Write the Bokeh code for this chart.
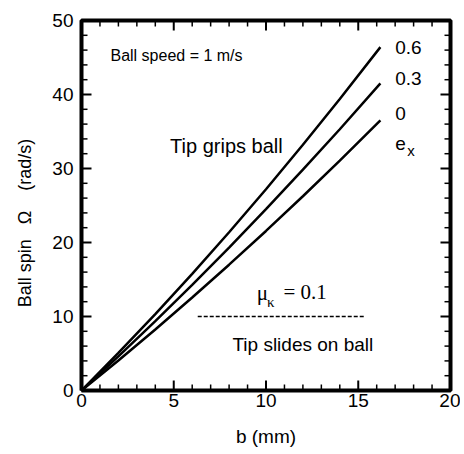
from bokeh.plotting import figure
from bokeh.models import Range1d, LinearAxis, SingleIntervalTicker, Label, ColumnDataSource
from bokeh.embed import file_html
from bokeh.resources import INLINE

# ---- data ----
b_mm = [0, 2, 4, 6, 8, 10, 12, 14, 16.2]
spin_e06 = [0, 5.07, 10.33, 15.77, 21.39, 27.2, 33.2, 39.4, 46.4]
spin_e03 = [0, 4.62, 9.37, 14.28, 19.32, 24.5, 29.84, 35.3, 41.5]
spin_e00 = [0, 4.06, 8.25, 12.56, 17.0, 21.56, 26.25, 31.06, 36.5]
ex_labels = ["0.6", "0.3", "0"]
slide_b = [6.3, 15.3]
slide_spin = [10, 10]

# axis ranges and tick positions
X_MIN, X_MAX = 0, 20
Y_MIN, Y_MAX = 0, 50
x_major = [0, 5, 10, 15, 20]
y_major = [0, 10, 20, 30, 40, 50]
x_minor = [v for v in range(X_MIN, X_MAX + 1) if v not in x_major]
y_minor = [v for v in range(Y_MIN, Y_MAX + 1, 2) if v not in y_major]

SANS = "Liberation Sans"
SERIF = "Liberation Serif"

W, H = 460, 450
BL, BR, BT, BB = 81, 10, 20, 60
FW, FH = W - BL - BR, H - BT - BB
PX_X = FW / (X_MAX - X_MIN)   # pixels per data unit
PX_Y = FH / (Y_MAX - Y_MIN)
MAJ, MIN = 10, 6              # tick lengths in pixels

p = figure(width=W, height=H, x_range=Range1d(X_MIN, X_MAX), y_range=Range1d(Y_MIN, Y_MAX),
           output_backend="svg", toolbar_location=None,
           min_border_left=BL, min_border_right=BR, min_border_top=BT, min_border_bottom=BB,
           x_axis_type=None, y_axis_type=None)
p.grid.visible = False
p.outline_line_color = "#000000"
p.outline_line_width = 2


def style(ax):
    ax.axis_line_width = 2
    ax.axis_line_color = "#000000"
    ax.major_tick_line_color = None
    ax.minor_tick_line_color = None
    ax.major_tick_in = 0
    ax.major_tick_out = 0
    ax.minor_tick_in = 0
    ax.minor_tick_out = 0
    ax.major_label_text_font = SANS
    ax.major_label_text_font_size = "19px"
    ax.major_label_text_color = "black"
    ax.axis_label_text_font = SANS
    ax.axis_label_text_font_style = "normal"
    ax.axis_label_text_color = "black"


xb = LinearAxis(ticker=SingleIntervalTicker(interval=5, num_minor_ticks=5), axis_label="b (mm)")
style(xb)
xb.major_label_standoff = 3
xb.axis_label_text_font_size = "19px"
xb.axis_label_standoff = 16
p.add_layout(xb, "below")

NB = "\u00a0"
yl = LinearAxis(ticker=SingleIntervalTicker(interval=10, num_minor_ticks=5),
                axis_label="Ball spin" + NB * 3 + "\u03a9" + NB * 4 + "(rad/s)" + NB * 7)
style(yl)
yl.major_label_standoff = 8
yl.axis_label_text_font_size = "18px"
yl.axis_label_standoff = 14
p.add_layout(yl, "left")

# curves
for ys in (spin_e06, spin_e03, spin_e00):
    p.line(b_mm, ys, line_color="black", line_width=2.5)

# sliding boundary
p.line(slide_b, slide_spin, line_color="black", line_width=1.5, line_dash="4 2")

# inward tick marks on all four sides, as one multi-line glyph per tick class
def tick_source(xs_list, ys_list):
    return ColumnDataSource(dict(xs=xs_list, ys=ys_list))

for L, lw, xt, yt in ((MAJ, 2, x_major, y_major), (MIN, 1.5, x_minor, y_minor)):
    dy = L / PX_Y
    dx = L / PX_X
    xs_l, ys_l = [], []
    for xv in xt:
        xs_l += [[xv, xv], [xv, xv]]
        ys_l += [[Y_MIN, Y_MIN + dy], [Y_MAX, Y_MAX - dy]]
    for yv in yt:
        xs_l += [[X_MIN, X_MIN + dx], [X_MAX, X_MAX - dx]]
        ys_l += [[yv, yv], [yv, yv]]
    p.multi_line("xs", "ys", source=tick_source(xs_l, ys_l),
                 line_color="black", line_width=lw, level="overlay")

# frame box, drawn after the curves
p.line([X_MIN, X_MAX, X_MAX, X_MIN, X_MIN], [Y_MIN, Y_MIN, Y_MAX, Y_MAX, Y_MIN],
       line_color="black", line_width=4, level="overlay")

# annotations
def lab(x, y, t, size, font=SANS, align="left", base="middle"):
    p.add_layout(Label(x=x, y=y, text=t, text_font=font, text_font_size=size,
                       text_align=align, text_baseline=base, text_color="black"))

lab(1.57, 45.3, "Ball speed = 1 m/s", "16px")
lab(4.8, 33.1, "Tip grips ball", "20px")
for t, yy in zip(ex_labels, [46.4, 42.2, 37.4]):
    lab(17.0, yy, t, "19px")
lab(17.0, 33.4, "e", "19px")
lab(17.65, 32.4, "x", "15px")
lab(9.5, 13.2, "\u03bc", "21px", font=SERIF)
lab(10.05, 11.9, "\u03ba", "15px", font=SERIF)
lab(10.95, 13.3, "= 0.1", "21px", font=SERIF)
lab(8.18, 6.2, "Tip slides on ball", "19px")

open("out.html", "w").write(file_html(p, INLINE))
